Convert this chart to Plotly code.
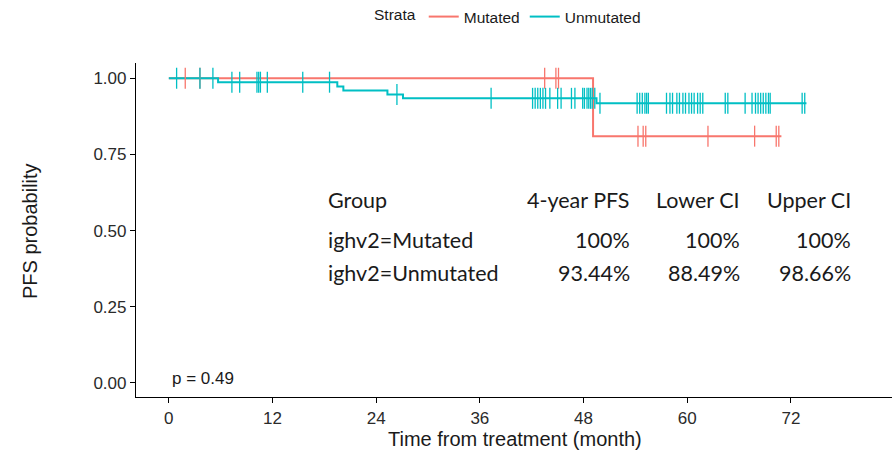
import plotly.graph_objects as go
import numpy as np

# ---- data ----
groups = ["Mutated", "Unmutated"]
colors = {"Mutated": "#F8766D", "Unmutated": "#00BFC4"}

# step curves: times where the survival level starts, and the levels
mut_step_t = [0, 49.1]
mut_step_s = [1.0, 0.81]
mut_end_t = 70.9
mut_censor_t = [1.9, 3.6, 43.5, 44.8, 45.1, 54.3, 54.9, 55.2, 62.4, 67.8, 70.3, 70.6]

unm_step_t = [0, 5.7, 19.5, 20.2, 25.3, 27.1, 49.5]
unm_step_s = [1.0, 0.987, 0.973, 0.960, 0.947, 0.934, 0.918]
unm_end_t = 73.8
unm_censor_t = [0.9, 3.6, 5.1, 7.3, 8.2, 10.2, 10.4, 10.6, 11.4, 15.5, 18.6, 26.4,
                37.3, 42.1, 42.4, 42.7, 43.0, 43.3, 43.6, 44.1, 45.0, 45.4, 46.6, 47.0,
                47.9, 48.1, 48.4, 48.6, 48.8, 49.0, 49.3, 49.9,
                54.2, 54.5, 54.8, 55.1, 55.3, 55.5, 57.6, 58.0, 58.3, 58.8, 59.1, 59.5,
                59.8, 60.2, 60.5, 60.8, 61.2, 61.5, 61.8, 64.4, 64.7, 66.7,
                67.5, 67.9, 68.2, 68.5, 68.8, 69.1, 69.4, 69.6, 73.3, 73.6]

x_ticks = [0, 12, 24, 36, 48, 60, 72]
y_ticks = [0, 0.25, 0.5, 0.75, 1.0]
y_ticklabels = ["0.00", "0.25", "0.50", "0.75", "1.00"]

table_header = ["Group", "4-year PFS", "Lower CI", "Upper CI"]
table_rows = [
    ["ighv2=Mutated", "100%", "100%", "100%"],
    ["ighv2=Unmutated", "93.44%", "88.49%", "98.66%"],
]
p_text = "p = 0.49"

curves = {
    "Mutated": (mut_step_t, mut_step_s, mut_end_t, mut_censor_t),
    "Unmutated": (unm_step_t, unm_step_s, unm_end_t, unm_censor_t),
}


def level_at(ts, ss, t):
    idx = np.searchsorted(np.array(ts), t, side="right") - 1
    return ss[max(idx, 0)]


fig = go.Figure()
for g in groups:
    ts, ss, tend, cens = curves[g]
    fig.add_trace(go.Scatter(
        x=list(ts) + [tend], y=list(ss) + [ss[-1]],
        mode="lines", line=dict(color=colors[g], width=2, shape="hv"),
        name=g, showlegend=True,
    ))
for g in groups:
    ts, ss, tend, cens = curves[g]
    fig.add_trace(go.Scatter(
        x=cens, y=[level_at(ts, ss, c) for c in cens],
        mode="markers",
        marker=dict(symbol="line-ns-open", size=15, color=colors[g],
                    line=dict(color=colors[g], width=1.3)),
        showlegend=False, hoverinfo="skip",
    ))

W, H = 892, 452
L, R, T, B = 136, 0, 63, 55
pw, ph = W - L - R, H - T - B


def px(xp):
    return (xp - L) / pw


def py(yp):
    return (H - B - yp) / ph


annotations = []
tfont = dict(family="Lato", size=21.5, color="#1a1a1a")
col_x = [326, 632, 742, 853]
row_y = [200, 240, 273]
rows = [table_header] + table_rows
for r, row in enumerate(rows):
    for c, txt in enumerate(row):
        annotations.append(dict(
            text=txt, x=px(col_x[c]), y=py(row_y[r]), xref="paper", yref="paper",
            xanchor="left" if c == 0 else "right", yanchor="middle",
            showarrow=False, font=tfont,
        ))
annotations.append(dict(text=p_text, x=px(170), y=py(378), xref="paper", yref="paper",
                        xanchor="left", yanchor="middle", showarrow=False,
                        font=dict(family="Liberation Sans, Arial", size=17, color="#1a1a1a")))
annotations.append(dict(text="Time from treatment (month)", x=px(515), y=py(439),
                        xref="paper", yref="paper", xanchor="center", yanchor="middle",
                        showarrow=False,
                        font=dict(family="Liberation Sans, Arial", size=20, color="#1a1a1a")))
annotations.append(dict(text="PFS probability", x=px(30), y=py(231),
                        xref="paper", yref="paper", xanchor="center", yanchor="middle",
                        textangle=-90, showarrow=False,
                        font=dict(family="Liberation Sans, Arial", size=20, color="#1a1a1a")))

fig.update_layout(
    width=W, height=H,
    margin=dict(l=L, r=R, t=T, b=B),
    plot_bgcolor="white", paper_bgcolor="white",
    font=dict(family="Liberation Sans, Arial", size=15, color="#1a1a1a"),
    showlegend=True,
    legend=dict(orientation="h", x=px(372), y=py(17), xanchor="left", yanchor="middle",
                xref="paper", yref="paper",
                title=dict(text="Strata", font=dict(size=15.5)), itemwidth=30,
                font=dict(size=15.5), bgcolor="rgba(0,0,0,0)"),
    annotations=annotations,
    xaxis=dict(range=[-3.8, 83.7], tickvals=x_ticks, showgrid=False, zeroline=False,
               showline=True, linecolor="black", linewidth=1.2, ticks="outside",
               ticklen=5, tickcolor="black", tickwidth=1.2,
               tickfont=dict(size=17, color="#2a2a2a")),
    yaxis=dict(range=[-0.046, 1.05], tickvals=y_ticks, ticktext=y_ticklabels,
               showgrid=False, zeroline=False, showline=True, linecolor="black",
               linewidth=1.2, ticks="outside", ticklen=5, tickcolor="black", tickwidth=1.2,
               tickfont=dict(size=17, color="#2a2a2a")),
)

fig.write_html("out.html")
